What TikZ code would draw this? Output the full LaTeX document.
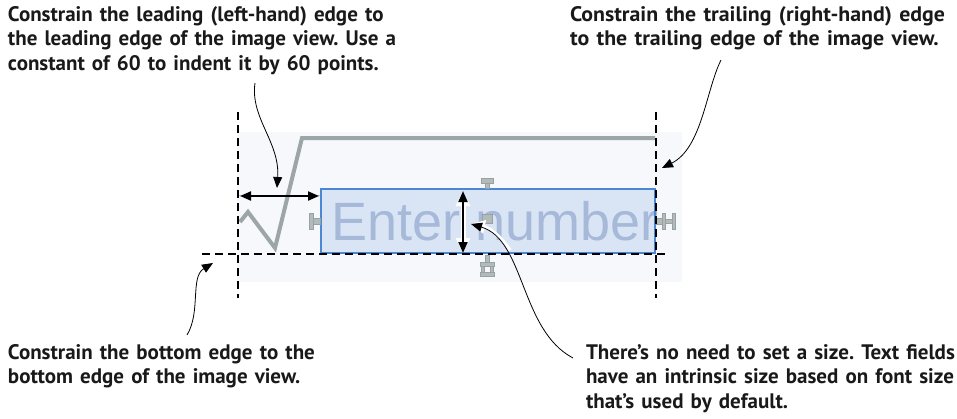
\documentclass[tikz,border=0pt]{standalone}
\usepackage{fontspec}
\setmainfont{PT Sans}
\newfontfamily\fieldfont{Liberation Sans}
\usetikzlibrary{arrows.meta}
\definecolor{bgview}{HTML}{F6F8FC}
\definecolor{radgray}{HTML}{9DA6A6}
\definecolor{fieldfill}{HTML}{D9E4F5}
\definecolor{fieldedge}{HTML}{4A88D4}
\definecolor{fieldtxt}{HTML}{A6B9D9}
\definecolor{handlefill}{HTML}{B3BABA}
\definecolor{handleedge}{HTML}{98A2A2}
\definecolor{conblue}{HTML}{9ED0EE}
\tikzset{
  note/.style={anchor=base west, inner sep=0pt, outer sep=0pt, text=black!90},
  callout/.style={line width=0.8pt, -{Triangle[length=11pt,width=9pt]}},
  guide/.style={line width=1.2pt, dash pattern=on 8pt off 5pt},
  radical/.style={line width=4pt, radgray, line join=miter},
  handle/.style={fill=handlefill, draw=handleedge, line width=0.6pt},
  dimarrow/.style={line width=2pt, {Triangle[length=11pt,width=9pt]}-{Triangle[length=11pt,width=9pt]}},
  dimhalo/.style={line width=5pt, white, {Triangle[length=15pt,width=14pt]}-{Triangle[length=15pt,width=14pt]}},
}
\newcommand{\notefont}{\bfseries\fontsize{21}{24.5}\selectfont\frenchspacing\spaceskip=0.34em plus 0.1em}
\begin{document}
\begin{tikzpicture}[x=1pt,y=-1pt]
\useasboundingbox (0,0) rectangle (957,418);
% image view background
\fill[bgview] (237,132) rectangle (682,282);
% radical sign
\draw[radical] (240,222) -- (248,212) -- (275,248) -- (302,138) -- (655,138);
% constraint line behind leading arrow
\draw[conblue, line width=1.2pt] (237,195.5) -- (321,195.5);
% text field
\node[fill=fieldfill, inner sep=0pt, minimum width=334pt, minimum height=64pt, anchor=north west] (field) at (321,189) {};
\node[anchor=base west, inner sep=0pt, text=fieldtxt] (fieldtext) at (331,240) {\fieldfont\fontsize{54}{54}\selectfont Enter number};
\draw[fieldedge, line width=2pt] (field.north west) rectangle (field.south east);
% handles
\draw[handle] (481,178) rectangle (493,183);
\draw[handle] (485,183) rectangle (489,188);
\draw[handle] (482,214) rectangle (492,223);
\draw[handle] (485,255) rectangle (489,262);
\draw[handle] (480,262) rectangle (494,266);
\draw[handle] (481,266) rectangle (484,272);
\draw[handle] (490,266) rectangle (493,272);
\draw[handle] (480,272) rectangle (494,276);
\draw[handle] (309,213) rectangle (313,229);
\draw[handle] (313,218) rectangle (320,224);
\draw[handle] (656,218) rectangle (662,224);
\draw[handle] (662,213) rectangle (665,229);
\draw[handle] (665,219) rectangle (672,223);
\draw[handle] (672,213) rectangle (675,229);
% guides
\coordinate (gl1) at (238,112); \coordinate (gl2) at (238,298);
\coordinate (gr1) at (656,112); \coordinate (gr2) at (656,298);
\coordinate (gb1) at (202,254); \coordinate (gb2) at (668,254);
\draw[guide] (gl1) -- (gl2);
\draw[guide] (gr1) -- (gr2);
\draw[guide] (gb1) -- (gb2);
% dimension arrows
\coordinate (hl) at (240,196); \coordinate (hr) at (319,196);
\draw[dimarrow] (hl) -- (hr);
\coordinate (vt) at (463,191); \coordinate (vb) at (463,253);
\draw[dimhalo] (vt) -- (vb);
\draw[dimarrow] (vt) -- (vb);
% notes
\node[note] (n1) at (8,21) {\parbox[t]{440pt}{\notefont\raggedright Constrain the leading (left-hand) edge to\\the leading edge of the image view. Use a\\constant of 60 to indent it by 60 points.}};
\node[note] (n2) at (570,21) {\scalebox{1.04}[1]{\parbox[t]{370pt}{\notefont\raggedright Constrain the trailing (right-hand) edge\\to the trailing edge of the image view.}}};
\node[note] (n3) at (8,359) {\parbox[t]{400pt}{\notefont\raggedright Constrain the bottom edge to the\\bottom edge of the image view.}};
\node[note] (n4) at (586,359) {\parbox[t]{400pt}{\notefont\raggedright There’s no need to set a size. Text fields\\have an intrinsic size based on font size\\that’s used by default.}};
% callouts
\coordinate (c1s) at (255,83); \coordinate (c1e) at (277,188);
\draw[callout] (c1s) .. controls (250,118) and (280,142) .. (c1e);
\coordinate (c2s) at (721,60); \coordinate (c2e) at (662,168);
\draw[callout] (c2s) .. controls (706,90) and (702,148) .. (c2e);
\coordinate (c3s) at (187,335); \coordinate (c3e) at (213,263);
\draw[callout] (c3s) .. controls (201,312) and (190,277) .. (c3e);
\coordinate (c4s) at (573,358); \coordinate (c4e) at (471,224);
\draw[white, line width=3.5pt, -{Triangle[length=14pt,width=13pt]}] (510,250) .. controls (500,236) and (490,228) .. (c4e);
\draw[callout] (c4s) .. controls (520,330) and (525,240) .. (c4e);
\end{tikzpicture}
\end{document}
